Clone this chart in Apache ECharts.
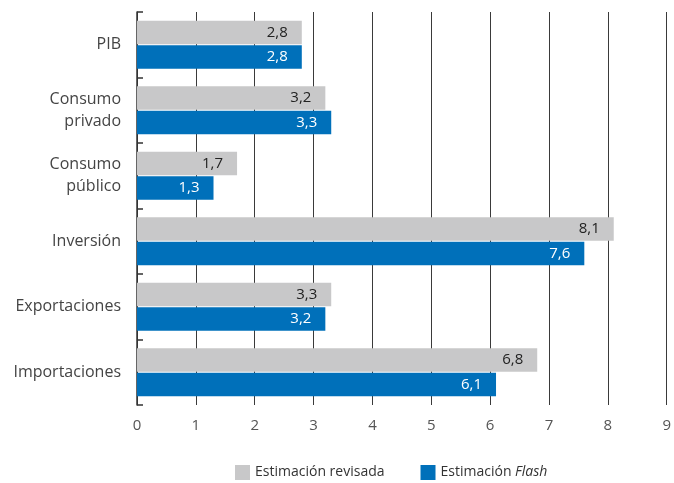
<!DOCTYPE html>
<html>
<head>
<meta charset="utf-8">
<script src="https://cdn.jsdelivr.net/npm/echarts@6/dist/echarts.min.js"></script>
<style>html,body{margin:0;padding:0;background:#fff}#c{width:674px;height:483px}</style>
</head>
<body>
<div id="c"></div>
<script>
var categories = ['PIB', 'Consumo\nprivado', 'Consumo\npúblico', 'Inversión', 'Exportaciones', 'Importaciones'];
var revisada = [2.8, 3.2, 1.7, 8.1, 3.3, 6.8];
var flash = [2.8, 3.3, 1.3, 7.6, 3.2, 6.1];
var xTicks = [0, 1, 2, 3, 4, 5, 6, 7, 8, 9];

var FONT = '"Open Sans", "Noto Sans", sans-serif';
var chart = echarts.init(document.getElementById('c'));
function fmt(p) { return String(p.value).replace('.', ','); }
chart.setOption({
  animation: false,
  textStyle: { fontFamily: FONT },
  grid: { left: 137, right: 4, top: 12, bottom: 78 },
  legend: {
    bottom: 3, left: 235, padding: 0,
    itemWidth: 15, itemHeight: 15, itemGap: 36,
    icon: 'rect',
    textStyle: { fontFamily: FONT, fontSize: 14, color: '#333', rich: { i: { fontStyle: 'italic', fontFamily: FONT, fontSize: 14, color: '#333' } } },
    formatter: function (n) { return n === 'Estimación Flash' ? 'Estimación {i|Flash}' : n; },
    data: ['Estimación revisada', 'Estimación Flash']
  },
  xAxis: {
    type: 'value', min: xTicks[0], max: xTicks[xTicks.length - 1], interval: 1,
    axisLine: { show: false }, axisTick: { show: false },
    axisLabel: { fontFamily: FONT, fontSize: 15, color: '#555', margin: 13 },
    splitLine: { show: true, lineStyle: { color: '#3a3a3a', width: 1 } }
  },
  yAxis: {
    type: 'category', data: categories, inverse: true,
    axisLine: { show: true, lineStyle: { color: '#333', width: 1.5 } },
    axisTick: { show: true, inside: true, length: 6, lineStyle: { color: '#333', width: 1.5 } },
    axisLabel: { fontFamily: FONT, fontSize: 16, color: '#444', margin: 16, lineHeight: 22, align: 'right' }
  },
  series: [
    {
      name: 'Estimación revisada', type: 'bar', data: revisada,
      barGap: '4%', barCategoryGap: '27%',
      itemStyle: { color: '#C8C8C9' },
      label: { show: true, position: 'insideRight', distance: 14, formatter: fmt, fontFamily: FONT, fontSize: 15, color: '#222' }
    },
    {
      name: 'Estimación Flash', type: 'bar', data: flash,
      itemStyle: { color: '#0070BA' },
      label: { show: true, position: 'insideRight', distance: 14, formatter: fmt, fontFamily: FONT, fontSize: 15, color: '#fff' }
    }
  ]
});
</script>
</body>
</html>
